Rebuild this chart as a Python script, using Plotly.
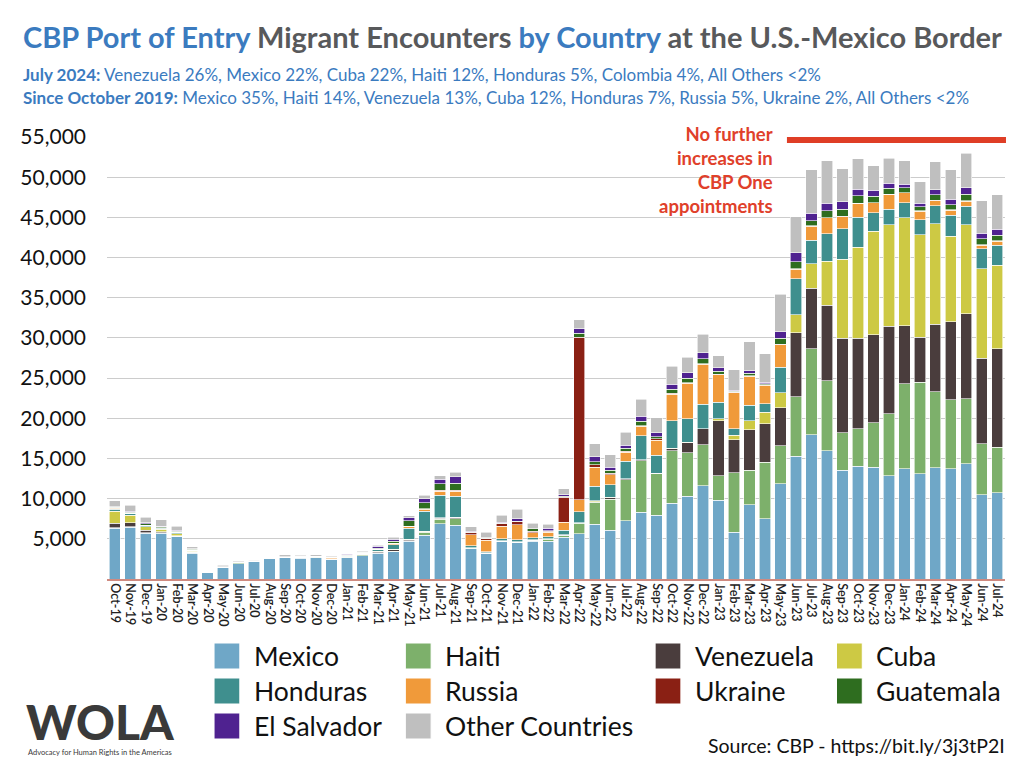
import plotly.graph_objects as go

months = [
    "Oct-19", "Nov-19", "Dec-19", "Jan-20", "Feb-20", "Mar-20", "Apr-20", "May-20", "Jun-20", "Jul-20",
    "Aug-20", "Sep-20", "Oct-20", "Nov-20", "Dec-20", "Jan-21", "Feb-21", "Mar-21", "Apr-21", "May-21",
    "Jun-21", "Jul-21", "Aug-21", "Sep-21", "Oct-21", "Nov-21", "Dec-21", "Jan-22", "Feb-22", "Mar-22",
    "Apr-22", "May-22", "Jun-22", "Jul-22", "Aug-22", "Sep-22", "Oct-22", "Nov-22", "Dec-22", "Jan-23",
    "Feb-23", "Mar-23", "Apr-23", "May-23", "Jun-23", "Jul-23", "Aug-23", "Sep-23", "Oct-23", "Nov-23",
    "Dec-23", "Jan-24", "Feb-24", "Mar-24", "Apr-24", "May-24", "Jun-24", "Jul-24",
]

mexico = [6300, 6450, 5700, 5700, 5290, 3200, 800, 1420, 1920, 2210,
          2500, 2660, 2570, 2660, 2450, 2660, 2900, 3200, 3400, 4680,
          5460, 6900, 6700, 3790, 3160, 4620, 4490, 4700, 4700, 5200,
          5660, 6820, 6070, 7240, 8320, 7950, 9400, 10320, 11600, 9800,
          5810, 9250, 7470, 11870, 15270, 17970, 15980, 13530, 14030, 13900,
          12870, 13700, 13110, 13820, 13700, 14360, 10500, 10710]
haiti = [80, 60, 80, 60, 60, 100, 10, 20, 100, 20,
         20, 40, 100, 60, 30, 60, 120, 80, 60, 60,
         330, 540, 790, 60, 30, 60, 60, 100, 250, 210,
         1250, 2750, 3870, 5080, 6370, 5120, 6570, 5370, 5080, 3050,
         7390, 4280, 7060, 4730, 7390, 10710, 8720, 4650, 4650, 5520,
         7680, 10620, 11370, 9460, 8630, 8090, 6350, 5690]
venezuela = [540, 500, 290, 100, 60, 60, 5, 10, 20, 10,
             10, 20, 20, 20, 20, 40, 60, 120, 200, 170,
             100, 125, 166, 40, 30, 40, 40, 40, 40, 60,
             60, 60, 166, 125, 125, 83, 250, 1290, 2000, 6840,
             4150, 5060, 4810, 4730, 7970, 7470, 9380, 11750, 11250, 11000,
             10910, 7220, 5600, 8420, 9670, 10540, 10620, 12280]
cuba = [1540, 900, 420, 330, 200, 80, 5, 10, 20, 5,
        5, 5, 10, 10, 10, 40, 30, 60, 60, 60,
        60, 40, 40, 20, 20, 20, 20, 20, 20, 30,
        30, 125, 40, 30, 30, 30, 40, 40, 40, 250,
        540, 1120, 1410, 1830, 2280, 3070, 5480, 9840, 11370, 12870,
        12620, 13400, 12740, 12530, 10670, 11080, 11120, 10380]
honduras = [250, 200, 150, 130, 150, 120, 10, 20, 30, 10,
            10, 30, 30, 30, 30, 40, 60, 150, 540, 1330,
            2450, 2790, 2580, 250, 125, 250, 290, 250, 250, 540,
            1370, 1790, 1580, 2160, 3000, 2200, 3450, 2950, 3000, 2040,
            830, 1910, 1040, 3200, 4440, 2950, 3400, 3820, 3690, 2280,
            1910, 1870, 1910, 2240, 2570, 2320, 2490, 2490]
russia = [120, 60, 60, 50, 40, 20, 0, 5, 10, 5,
          5, 10, 10, 20, 160, 40, 30, 100, 160, 250,
          290, 540, 670, 1330, 1460, 1580, 1870, 670, 580, 1000,
          1500, 2370, 1250, 1120, 1170, 1870, 3250, 4370, 4990, 3450,
          4440, 3610, 2320, 2820, 1200, 1740, 1990, 1490, 1740, 1250,
          1870, 1250, 1040, 620, 660, 620, 460, 500]
ukraine = [20, 10, 10, 5, 5, 5, 0, 0, 0, 0,
           0, 5, 5, 5, 10, 10, 10, 20, 30, 40,
           40, 125, 125, 250, 210, 290, 370, 170, 125, 3120,
           20220, 330, 210, 125, 60, 170, 125, 60, 60, 60,
           100, 60, 50, 50, 40, 30, 30, 30, 30, 30,
           30, 30, 30, 30, 30, 30, 30, 30]
guatemala = [80, 150, 150, 100, 130, 130, 10, 20, 60, 10,
             10, 20, 60, 20, 20, 60, 100, 120, 250, 670,
             750, 790, 870, 60, 40, 60, 60, 290, 60, 125,
             500, 370, 330, 420, 540, 290, 500, 580, 620, 370,
             100, 300, 150, 700, 900, 620, 830, 910, 910, 750,
             710, 620, 540, 710, 620, 830, 790, 710]
el_salvador = [80, 120, 110, 120, 150, 60, 5, 10, 10, 5,
               5, 10, 10, 10, 20, 120, 40, 200, 250, 370,
               500, 540, 790, 166, 60, 166, 290, 40, 290, 210,
               580, 580, 370, 330, 620, 500, 670, 670, 750, 420,
               150, 350, 200, 830, 1120, 950, 950, 910, 830, 790,
               660, 420, 420, 580, 710, 830, 660, 750]
other = [700, 700, 700, 780, 500, 220, 60, 200, 100, 40,
         40, 200, 150, 200, 120, 80, 120, 150, 250, 250,
         420, 460, 540, 540, 660, 870, 1170, 670, 500, 750,
         1080, 1620, 1580, 1660, 2160, 1830, 2250, 1960, 2330, 1500,
         2530, 3610, 3490, 4690, 4480, 5400, 5270, 4150, 3820, 3030,
         3070, 2900, 2700, 3530, 3650, 4280, 4030, 4280]

countries = ["Mexico", "Haiti", "Venezuela", "Cuba", "Honduras", "Russia",
             "Ukraine", "Guatemala", "El Salvador", "Other Countries"]
series = [mexico, haiti, venezuela, cuba, honduras, russia,
          ukraine, guatemala, el_salvador, other]
colors = ["#6fa7c7", "#7db06b", "#4a3d3d", "#cdc944", "#3f8f8e", "#f09a3a",
          "#8a2014", "#2e6d1f", "#4f2290", "#bfbfbf"]

ytick_vals = [5000, 10000, 15000, 20000, 25000, 30000, 35000, 40000, 45000, 50000, 55000]

W, H = 1024, 768
# plot area in screen pixels; the page body adds an 8px offset
L, R, T, B = 99, 1005, 137, 579
OFF = 8


def px(x):
    return (x - L) / (R - L)


def py(y):
    return (B - y) / (B - T)


fig = go.Figure()
for name, vals, col in zip(countries, series, colors):
    fig.add_trace(go.Bar(
        x=months, y=vals, name=name,
        marker=dict(color=col, line=dict(color="white", width=0.6)),
        showlegend=False,
    ))

BLUE = "#3b7bbf"
GREY = "#58595b"
annotations = [
    dict(x=px(12), y=py(37), xref="paper", yref="paper", xanchor="left", yanchor="middle",
         showarrow=False, font=dict(family="Lato", size=29, color=GREY),
         text=(f"<b><span style='color:{BLUE}'>CBP Port of Entry</span> Migrant Encounters "
               f"<span style='color:{BLUE}'>by Country</span> at the U.S.-Mexico Border</b>")),
    dict(x=px(12), y=py(74), xref="paper", yref="paper", xanchor="left", yanchor="middle",
         showarrow=False, font=dict(family="Lato", size=17, color=BLUE),
         text=("<b>July 2024:</b> Venezuela 26%, Mexico 22%, Cuba 22%, Haiti 12%, "
               "Honduras 5%, Colombia 4%, All Others &lt;2%")),
    dict(x=px(12), y=py(97), xref="paper", yref="paper", xanchor="left", yanchor="middle",
         showarrow=False, font=dict(family="Lato", size=17, color=BLUE),
         text=("<b>Since October 2019:</b> Mexico 35%, Haiti 14%, Venezuela 13%, Cuba 12%, "
               "Honduras 7%, Russia 5%, Ukraine 2%, All Others &lt;2%")),
    dict(x=px(773), y=py(121), xref="paper", yref="paper", xanchor="right", yanchor="top",
         showarrow=False, align="right", font=dict(family="Lato", size=18.5, color="#e0402a"),
         text="<b>No further<br>increases in<br>CBP One<br>appointments</b>"),
    dict(x=px(1007), y=py(745), xref="paper", yref="paper", xanchor="right", yanchor="middle",
         showarrow=False, font=dict(family="Lato", size=19.5, color="#111111"),
         text="Source: CBP - https://bit.ly/3j3tP2I"),
    dict(x=px(92), y=py(721), xref="paper", yref="paper", xanchor="center", yanchor="middle",
         showarrow=False, font=dict(family="Lato", size=48, color="#3a3a3a", weight=900),
         text="WOLA"),
    dict(x=px(92), y=py(752), xref="paper", yref="paper", xanchor="center", yanchor="middle",
         showarrow=False, font=dict(family="Lato", size=7.5, color="#3a3a3a"),
         text="Advocacy for Human Rights in the Americas"),
]

shapes = [
    dict(type="line", xref="paper", yref="paper", x0=px(785), x1=px(1006), y0=py(140), y1=py(140),
         line=dict(color="#df3e26", width=6)),
]

# legend laid out by hand: 4 columns x 3 rows, row-major
col_x = [207, 400, 652, 835]
row_y = [643, 678, 713]
sq = 26
for i, (name, col) in enumerate(zip(countries, colors)):
    r, c = divmod(i, 4)
    x0, y0 = col_x[c], row_y[r]
    shapes.append(dict(type="rect", xref="paper", yref="paper",
                       x0=px(x0), x1=px(x0 + sq), y0=py(y0 + sq), y1=py(y0),
                       fillcolor=col, line=dict(color="white", width=1)))
    annotations.append(dict(x=px(x0 + sq + 12), y=py(y0 + sq / 2), xref="paper", yref="paper",
                            xanchor="left", yanchor="middle", showarrow=False,
                            font=dict(family="Lato", size=26.5, color="#111111"), text=name))

fig.update_layout(
    width=W, height=H,
    margin=dict(l=L - OFF, r=W - (R - OFF), t=T - OFF, b=H - (B - OFF)),
    barmode="stack",
    bargap=0.27,
    paper_bgcolor="white",
    plot_bgcolor="white",
    font=dict(family="Lato", color="#111111"),
    annotations=annotations,
    shapes=shapes,
    showlegend=False,
)
fig.update_xaxes(
    type="category", tickangle=90, tickfont=dict(size=12.5, color="#222222", weight=600),
    showline=True, linecolor="#cf8a80", linewidth=1.5, ticks="", showgrid=False,
)
fig.update_yaxes(
    range=[0, 55000], tickvals=ytick_vals, tickformat=",",
    tickfont=dict(size=21, color="#111111"),
    showgrid=True, gridcolor="#cccccc", gridwidth=1, zeroline=False,
    ticklabelstandoff=20,
)

fig.write_html("out.html")
